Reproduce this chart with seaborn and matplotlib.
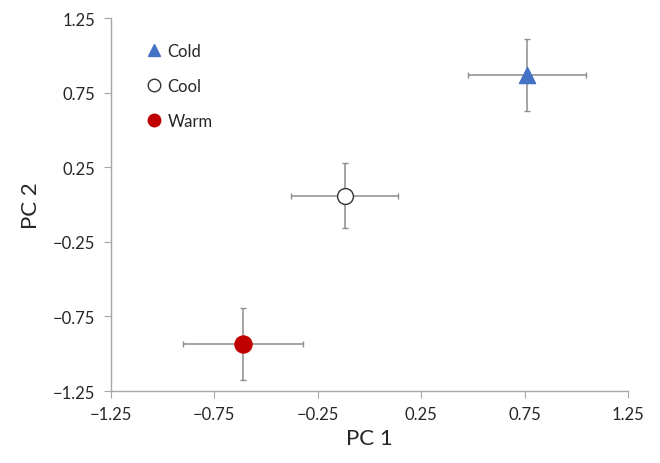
import matplotlib
matplotlib.use("Agg")
import matplotlib.pyplot as plt
import seaborn as sns
import pandas as pd
from matplotlib.lines import Line2D

# PCA group means with their standard errors
groups = ["Cold", "Cool", "Warm"]
pc1 = [0.76, -0.12, -0.61]
pc2 = [0.87, 0.06, -0.935]
pc1_err = [0.285, 0.26, 0.29]
pc2_err = [0.24, 0.22, 0.24]
ticks = [-1.25, -0.75, -0.25, 0.25, 0.75, 1.25]

df = pd.DataFrame({"group": groups, "PC1": pc1, "PC2": pc2,
                   "e1": pc1_err, "e2": pc2_err})

sns.set_theme(style="white")
plt.rcParams["font.family"] = ["Lato", "DejaVu Sans"]

face = {"Cold": "#4472C4", "Cool": "white", "Warm": "#C00000"}
edge = {"Cold": "#4472C4", "Cool": "#333333", "Warm": "#C00000"}
marks = {"Cold": "^", "Cool": "o", "Warm": "o"}
sizes = {"Cold": 135, "Cool": 130, "Warm": 150}

fig = plt.figure(figsize=(6.6, 4.64), dpi=100)
ax = fig.add_axes([0.168, 0.155, 0.7835, 0.804])

ax.errorbar(df["PC1"], df["PC2"], xerr=df["e1"], yerr=df["e2"], fmt="none",
            ecolor="#8c8c8c", elinewidth=1.1, capsize=2.5, capthick=1.0, zorder=1)

for g in groups:
    sub = df[df["group"] == g]
    sns.scatterplot(data=sub, x="PC1", y="PC2", ax=ax, marker=marks[g],
                    s=sizes[g], color=face[g], edgecolor=edge[g],
                    linewidth=1.0, zorder=3, legend=False)

ax.set_xlim(-1.25, 1.25)
ax.set_ylim(-1.25, 1.25)
ax.set_xticks(ticks)
ax.set_yticks(ticks)
ax.set_xticklabels([f"{t:.2f}".replace("-", "\u2212") for t in ticks])
ax.set_yticklabels([f"{t:.2f}".replace("-", "\u2212") for t in ticks])
ax.tick_params(axis="both", labelsize=12, colors="#262626", length=5,
               width=0.8, direction="out", bottom=True, left=True, pad=6)
ax.tick_params(axis="both", color="#a6a6a6")

for s in ["top", "right"]:
    ax.spines[s].set_visible(False)
for s in ["left", "bottom"]:
    ax.spines[s].set_color("#a6a6a6")
    ax.spines[s].set_linewidth(1.0)

ax.set_xlabel("PC 1", fontsize=16, color="#262626", labelpad=4)
ax.set_ylabel("PC 2", fontsize=16, color="#262626", labelpad=9)

handles = [Line2D([], [], linestyle="none", marker=marks[g], markersize=9,
                  markerfacecolor=face[g], markeredgecolor=edge[g],
                  markeredgewidth=1.0, label=g) for g in groups]
ax.legend(handles=handles, loc="upper left", bbox_to_anchor=(0.058, 0.952),
          frameon=False, fontsize=12, labelspacing=1.15, handlelength=0.8,
          handletextpad=0.4, borderaxespad=0)

fig.savefig("out.png", dpi=100)
